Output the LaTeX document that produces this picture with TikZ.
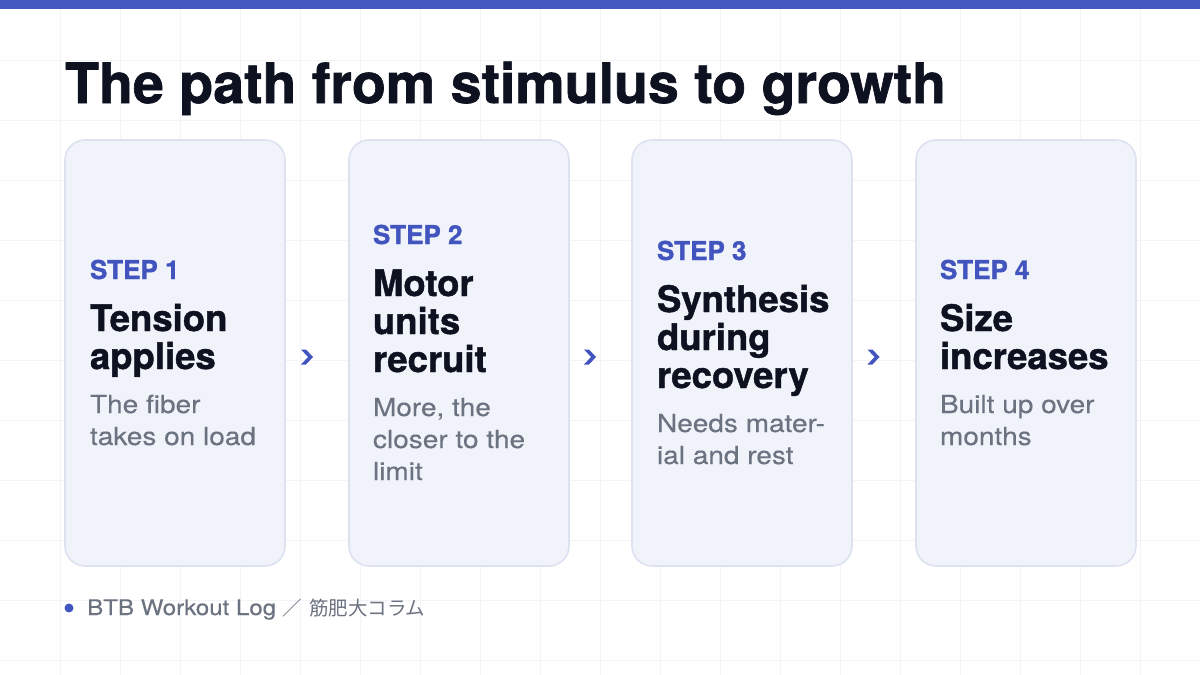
\documentclass[tikz,border=0pt]{standalone}
\usepackage{fontspec}
\setmainfont{TeX Gyre Heros}
\newfontfamily\bodyfont[FakeStretch=1.12, FakeBold=0.25]{TeX Gyre Heros}
\newfontfamily\heavyfont[FakeBold=1.2]{TeX Gyre Heros Bold}
\newfontfamily\cjkfont{Noto Sans CJK JP}
\definecolor{topbar}{HTML}{4456C0}
\definecolor{inkdark}{HTML}{0E1220}
\definecolor{stepblue}{HTML}{4254BE}
\definecolor{bodygray}{HTML}{6B7280}
\definecolor{cardfill}{HTML}{F1F3FB}
\definecolor{cardline}{HTML}{DDE2F0}
\definecolor{gridcol}{HTML}{F3F4F8}
\tikzset{
  gridline/.style={draw=gridcol, line width=0.9pt},
  cardbox/.style={draw=cardline, fill=cardfill, line width=1.6pt, rounded corners=20pt,
    minimum width=220pt, minimum height=426pt, inner sep=0pt, outer sep=0pt},
  steplabel/.style={anchor=base west, inner sep=0pt, outer sep=0pt, text=stepblue,
    font=\heavyfont\fontsize{26}{30}\selectfont},
  headtext/.style={anchor=base west, inner sep=0pt, outer sep=0pt, text=inkdark},
  bodytext/.style={anchor=base west, inner sep=0pt, outer sep=0pt, text=bodygray},
  chevron/.style={fill=stepblue},
}
\newcommand{\headblock}[1]{\parbox[t]{210pt}{\raggedright\heavyfont\fontsize{36.5}{38}\selectfont #1}}
\newcommand{\bodyblock}[1]{\parbox[t]{210pt}{\raggedright\bodyfont\fontsize{25}{32}\selectfont #1}}
\begin{document}
\begin{tikzpicture}[x=1pt,y=-1pt]
\useasboundingbox (0,0) rectangle (1200,675);
\fill[white] (0,0) rectangle (1200,675);
% grid
\foreach \gx in {60,120,...,1140} \draw[gridline] (\gx,9) -- (\gx,675);
\foreach \gy in {60,120,...,660} \draw[gridline] (0,\gy) -- (1200,\gy);
% top bar
\fill[topbar] (0,0) rectangle (1200,9);
% title
\node[anchor=base west, inner sep=0pt, text=inkdark, font=\heavyfont\fontsize{55.5}{60}\selectfont]
  (title) at (65,103) {The path from stimulus to growth};
% cards
\node[cardbox] (card1) at (175,353) {};
\node[cardbox] (card2) at (459,353) {};
\node[cardbox] (card3) at (742,353) {};
\node[cardbox] (card4) at (1026,353) {};
% card 1
\node[steplabel] (s1) at (90,279) {STEP 1};
\node[headtext] (h1) at (90,331) {\headblock{Tension\\applies}};
\node[bodytext] (b1) at (90,413) {\bodyblock{The fiber\\takes on load}};
% card 2
\node[steplabel] (s2) at (373,244) {STEP 2};
\node[headtext] (h2) at (373,296) {\headblock{Motor\\units\\recruit}};
\node[bodytext] (b2) at (373,416) {\bodyblock{More, the\\closer to the\\limit}};
% card 3
\node[steplabel] (s3) at (657,260) {STEP 3};
\node[headtext] (h3) at (657,312) {\headblock{Synthesis\\during\\recovery}};
\node[bodytext] (b3) at (657,432) {\bodyblock{Needs mater-\\ial and rest}};
% card 4
\node[steplabel] (s4) at (940,279) {STEP 4};
\node[headtext] (h4) at (940,331) {\headblock{Size\\increases}};
\node[bodytext] (b4) at (940,413) {\bodyblock{Built up over\\months}};
% chevrons
\coordinate (a1) at (307.5,357);
\coordinate (a2) at (590.5,357);
\coordinate (a3) at (874,357);
\foreach \ac in {a1,a2,a3}
  \fill[chevron, shift={(\ac)}] (-6.5,-7.5) -- (-1.5,-7.5) -- (5.5,0) -- (-1.5,7.5) -- (-6.5,7.5) -- (0.5,0) -- cycle;
% footer
\node[circle, fill=stepblue, minimum size=9pt, inner sep=0pt] (dot) at (69,608) {};
\node[anchor=base west, inner sep=0pt, text=bodygray] (footer) at (87,615)
  {\bodyfont\fontsize{21.5}{24}\selectfont BTB Workout Log {\cjkfont\fontsize{19.5}{24}\selectfont ／} {\cjkfont\fontsize{19.5}{24}\selectfont 筋肥大コラム}};
\end{tikzpicture}
\end{document}
